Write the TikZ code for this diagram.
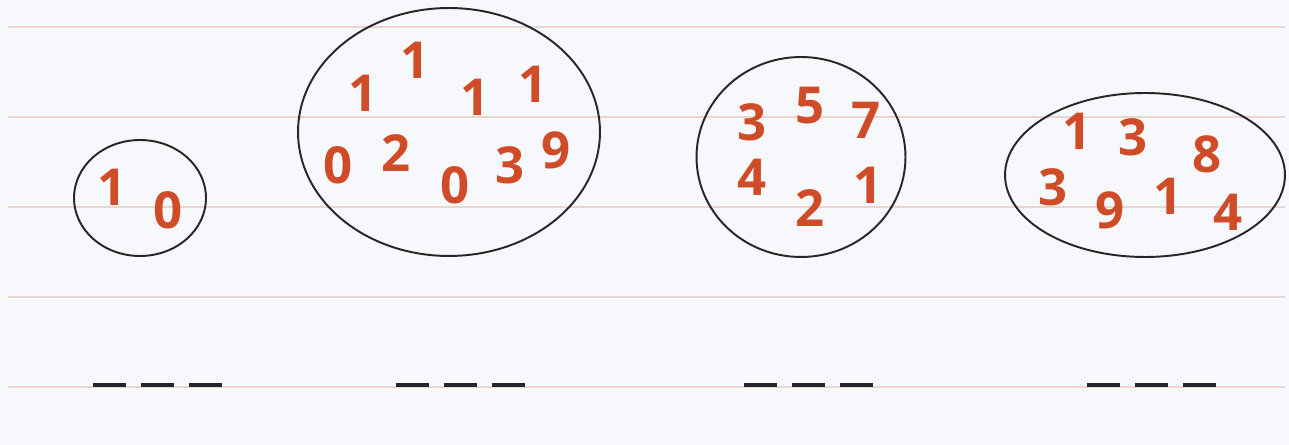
\documentclass[tikz,border=0pt]{standalone}
\usepackage{fontspec}
\usepackage{tikz}
\usetikzlibrary{shapes.geometric}
\newfontfamily\numfont{Open Sans}
\definecolor{numred}{RGB}{208,76,40}
\definecolor{rulepink}{RGB}{232,214,204}
\definecolor{paper}{RGB}{247,248,252}

\begin{document}
\begin{tikzpicture}[
  x=0.02cm, y=-0.02cm,
  digit/.style={
    text=numred,
    font=\numfont\bfseries\fontsize{29}{29}\selectfont,
    inner sep=0pt
  },
  setloop/.style={
    draw=black!85,
    line width=1.1pt,
    ellipse,
    inner sep=0pt
  },
  blank/.style={draw=black!85, line width=1.8pt},
  rule/.style={draw=rulepink, line width=0.6pt}
]
  \useasboundingbox[fill=paper] (0,0) rectangle (1289,445);

  % ruled lines of the sheet
  \foreach \ry in {27,117,207,297,387}
    \draw[rule] (8,\ry) -- (1285,\ry);

  % the four sets
  \node[setloop, minimum width=2.64cm, minimum height=2.32cm] (setA) at (140,198) {};
  \node[setloop, minimum width=6.04cm, minimum height=4.96cm] (setB) at (449,132) {};
  \node[setloop, minimum width=4.18cm, minimum height=4.0cm] (setC) at (801,157) {};
  \node[setloop, minimum width=5.6cm, minimum height=3.28cm] (setD) at (1145,175) {};

  % digits in set A
  \node[digit] (a1) at (112,187) {1};
  \node[digit] (a2) at (168,210) {0};

  % digits in set B
  \node[digit] (b1) at (415,60) {1};
  \node[digit] (b2) at (363,93) {1};
  \node[digit] (b3) at (475,97) {1};
  \node[digit] (b4) at (533,84) {1};
  \node[digit] (b5) at (338,165) {0};
  \node[digit] (b6) at (396,153) {2};
  \node[digit] (b7) at (455,185) {0};
  \node[digit] (b8) at (510,165) {3};
  \node[digit] (b9) at (556,150) {9};

  % digits in set C
  \node[digit] (c1) at (752,122) {3};
  \node[digit] (c2) at (810,106) {5};
  \node[digit] (c3) at (866,120) {7};
  \node[digit] (c4) at (752,177) {4};
  \node[digit] (c5) at (810,208) {2};
  \node[digit] (c6) at (868,185) {1};

  % digits in set D
  \node[digit] (d1) at (1077,131) {1};
  \node[digit] (d2) at (1133,137) {3};
  \node[digit] (d3) at (1207,154) {8};
  \node[digit] (d4) at (1053,187) {3};
  \node[digit] (d5) at (1110,210) {9};
  \node[digit] (d6) at (1168,196) {1};
  \node[digit] (d7) at (1228,212) {4};

  % answer blanks
  \foreach \bx in {93,396,744,1087}
    \foreach \k in {0,1,2}
      \draw[blank] (\bx+48*\k,385) -- (\bx+48*\k+33,385);
\end{tikzpicture}
\end{document}
